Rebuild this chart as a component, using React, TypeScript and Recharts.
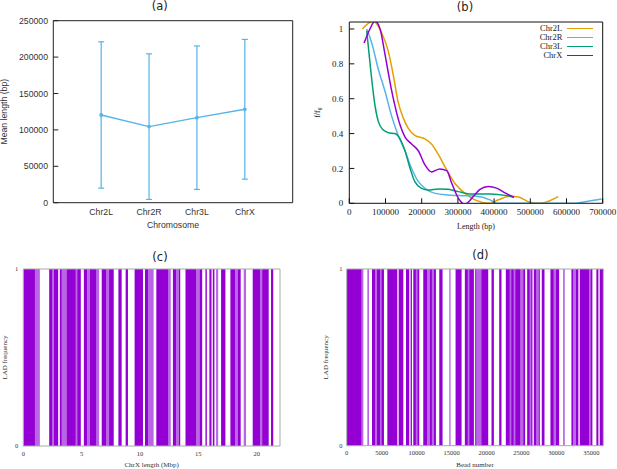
import { LineChart, Line, AreaChart, Area, XAxis, YAxis, ErrorBar, Legend, Label } from 'recharts'

// fonts
const SANS = '"Liberation Sans", Arial, sans-serif'
const SERIF = '"Liberation Serif", "Times New Roman", serif'
const TITLE_FONT = '"DejaVu Sans", sans-serif'

// (a) mean LAD length per chromosome
const CHROMOSOMES = ['Chr2L', 'Chr2R', 'Chr3L', 'ChrX']
const MEAN_LENGTH = [120500, 104500, 116800, 128300]
const LENGTH_SD = [100500, 100000, 98500, 96000]
const MEAN_TICKS = [0, 50000, 100000, 150000, 200000, 250000]

// (b) normalised length distributions
const CHR2L_LEN = [36e3, 66e3, 89e3, 108e3, 122e3, 135e3, 149e3, 163e3, 181e3, 209e3, 227e3, 246e3, 264e3, 292e3, 320e3, 347e3, 389e3, 412e3, 444e3, 467e3, 499e3, 527e3, 554e3, 577e3]
const CHR2L_F = [1.0, 1.045, 0.98, 0.87, 0.73, 0.58, 0.49, 0.43, 0.39, 0.37, 0.34, 0.28, 0.21, 0.114, 0.057, 0.02, 0.0, 0.02, 0.04, 0.036, 0.006, 0.0, 0.015, 0.038]
const CHR2R_LEN = [48e3, 62e3, 80e3, 99e3, 117e3, 135e3, 154e3, 172e3, 191e3, 209e3, 237e3, 273e3, 310e3, 347e3, 389e3, 407e3, 470e3, 530e3, 619e3, 660e3, 697e3]
const CHR2R_F = [1.0, 0.92, 0.77, 0.64, 0.5, 0.39, 0.3, 0.2, 0.124, 0.086, 0.057, 0.048, 0.044, 0.042, 0.02, 0.0, 0.0, 0.0, 0.0, 0.012, 0.025]
const CHR3L_LEN = [48e3, 54e3, 62e3, 71e3, 80e3, 94e3, 108e3, 126e3, 140e3, 154e3, 168e3, 181e3, 200e3, 218e3, 246e3, 273e3, 301e3, 338e3, 389e3, 435e3, 455e3]
const CHR3L_F = [0.99, 0.87, 0.71, 0.56, 0.47, 0.42, 0.405, 0.4, 0.37, 0.3, 0.2, 0.124, 0.086, 0.076, 0.082, 0.08, 0.067, 0.053, 0.054, 0.044, 0.035]
const CHRX_LEN = [41e3, 57e3, 71e3, 85e3, 99e3, 112e3, 126e3, 140e3, 154e3, 172e3, 191e3, 209e3, 227e3, 250e3, 269e3, 283e3, 301e3, 320e3, 343e3, 361e3, 384e3, 407e3, 430e3, 455e3]
const CHRX_F = [0.92, 1.0, 1.045, 1.0, 0.85, 0.7, 0.56, 0.45, 0.38, 0.34, 0.3, 0.22, 0.18, 0.197, 0.187, 0.115, 0.03, -0.005, 0.04, 0.08, 0.096, 0.087, 0.06, 0.035]
const LENGTH_TICKS = [0, 100000, 200000, 300000, 400000, 500000, 600000, 700000]
const F_TICKS = [0, 0.2, 0.4, 0.6, 0.8, 1]

// (c) LAD segments along ChrX, Mbp
const CHRX_LAD = [[0, 1.0], [2.22, 2.5], [2.62, 2.99], [3.13, 3.3], [3.7, 4.5], [4.62, 4.93], [5.19, 5.47], [5.7, 6.27], [6.72, 7.12], [7.35, 7.75], [8.15, 8.43], [8.77, 8.97], [9.54, 10.26], [10.43, 10.71], [11.4, 12.4], [12.82, 13.1], [13.33, 13.45], [13.9, 14.8], [15.1, 15.33], [15.61, 15.73], [15.95, 16.13], [16.24, 16.38], [16.95, 17.32], [17.75, 18.17], [18.4, 18.63], [19.66, 20.3], [20.47, 21.03], [21.23, 21.42]]
const CHRX_LAD_PARTIAL = [[1.0, 1.42], [2.5, 2.62], [3.3, 3.7], [4.5, 4.62], [5.47, 5.7], [6.27, 6.5], [7.12, 7.35], [10.71, 11.17], [12.4, 12.64], [13.1, 13.33], [14.8, 15.1], [16.52, 16.7], [18.17, 18.4], [18.89, 19.09], [20.3, 20.47]]
const MBP_TICKS = [0, 5, 10, 15, 20]

// (d) LAD segments along the bead chain
const BEAD_LAD = [[0, 2140], [3620, 4100], [4290, 4760], [4950, 5330], [5810, 7240], [7430, 8100], [8480, 8950], [9140, 9330], [9520, 9900], [10100, 10380], [10950, 11520], [11900, 12190], [12480, 12760], [13240, 13710], [15570, 16430], [16900, 17330], [17520, 18190], [18380, 18570], [19240, 20240], [20710, 21050], [21810, 22140], [22760, 23330], [23520, 23900], [24100, 24860], [25240, 25520], [25810, 26190], [26380, 26570], [26760, 27140], [27430, 27620], [27900, 28290], [29140, 29620], [29900, 30380], [32140, 32380], [32760, 33140], [33330, 34670], [34860, 35140], [35710, 36000], [36190, 36670]]
const BEAD_LAD_PARTIAL = [[2140, 2380], [2950, 3190], [4100, 4290], [4760, 4950], [9900, 10100], [11520, 11900], [12190, 12480], [14670, 14860], [17330, 17520], [18570, 19240], [23330, 23520], [23900, 24100], [24860, 25240], [26190, 26380], [27140, 27430], [29620, 29900], [30950, 31190], [32380, 32760], [34670, 34860]]
const BEAD_TICKS = [0, 5000, 10000, 15000, 20000, 25000, 30000, 35000]

const SKY = '#56b4e9'
const SERIES = [
  { name: 'Chr2L', color: '#e69f00', len: CHR2L_LEN, f: CHR2L_F },
  { name: 'Chr2R', color: SKY, len: CHR2R_LEN, f: CHR2R_F },
  { name: 'Chr3L', color: '#009e73', len: CHR3L_LEN, f: CHR3L_F },
  { name: 'ChrX', color: '#9400d3', len: CHRX_LEN, f: CHRX_F },
]
const LAD_DARK = '#9400d3'
const LAD_LIGHT = '#b866e6'

const meanData = CHROMOSOMES.map((name, i) => ({ x: i + 1, name, mean: MEAN_LENGTH[i], sd: LENGTH_SD[i] }))

// step rows: value holds from one breakpoint to the next
function toSteps(full: number[][], partial: number[][]) {
  const xs = Array.from(new Set([0, ...full.flat(), ...partial.flat()])).sort((a, b) => a - b)
  const inside = (segs: number[][], x: number) => (segs.some(([a, b]) => x >= a && x < b) ? 1 : 0)
  return xs.map((x) => ({ x, dark: inside(full, x), light: inside(partial, x) }))
}

function PanelTitle({ text, cx, top }: { text: string; cx: number; top: number }) {
  return (
    <div style={{ position: 'absolute', left: cx - 20, top, width: 40, textAlign: 'center', fontFamily: TITLE_FONT, fontSize: 11.5, lineHeight: '14px', color: '#222' }}>
      {text}
    </div>
  )
}

function MeanLengthChart() {
  const tick = { fontSize: 8.7, fill: '#333', fontFamily: SANS }
  return (
    <LineChart width={310} height={235} data={meanData} margin={{ top: 19.7, right: 16.3, bottom: 0, left: 0 }}>
      <XAxis dataKey="x" type="number" domain={[0, 5]} ticks={[1, 2, 3, 4]} tickFormatter={(v) => CHROMOSOMES[v - 1] ?? ''}
        height={32.3} tickLine={false} tickSize={0} tickMargin={6.4} stroke="#222" tick={tick} allowDataOverflow>
        <Label value="Chromosome" position="insideBottom" offset={7.5} style={{ ...tick }} />
      </XAxis>
      <XAxis xAxisId="top" orientation="top" type="number" domain={[0, 5]} height={1} tick={false} tickLine={false} stroke="#222" />
      <YAxis type="number" domain={[0, 250000]} ticks={MEAN_TICKS} width={53.3} tickSize={-5} tickMargin={10.3} stroke="#222" tick={tick}>
        <Label value="Mean length (bp)" angle={-90} position="insideLeft" offset={4} style={{ ...tick, textAnchor: 'middle' }} />
      </YAxis>
      <YAxis yAxisId="right" orientation="right" type="number" domain={[0, 250000]} ticks={MEAN_TICKS} width={1} tickSize={-5} tick={false} stroke="#222" />
      <Line dataKey="mean" stroke={SKY} strokeWidth={1.4} dot={{ r: 1.2, fill: SKY, stroke: SKY }} isAnimationActive={false}>
        <ErrorBar dataKey="sd" direction="y" width={3} strokeWidth={1.2} stroke={SKY} />
      </Line>
    </LineChart>
  )
}

function DistributionLegend() {
  return (
    <div>
      {SERIES.map((s) => (
        <div key={s.name} style={{ display: 'flex', alignItems: 'center', justifyContent: 'flex-end', height: 8.9 }}>
          <span style={{ fontFamily: SERIF, fontSize: 8.5, lineHeight: '8.9px', color: '#222' }}>{s.name}</span>
          <span style={{ display: 'inline-block', width: 26, height: 1.5, marginLeft: 4.4, background: s.color }} />
        </div>
      ))}
    </div>
  )
}

function DistributionChart() {
  const tick = { fontSize: 9, fill: '#222', fontFamily: SERIF }
  return (
    <LineChart width={307} height={235} margin={{ top: 21, right: 13.3, bottom: 0, left: 0 }}>
      <XAxis dataKey="x" type="number" domain={[0, 700000]} ticks={LENGTH_TICKS} height={31.7} tickSize={-5} tickMargin={10.8}
        stroke="#111" tick={tick} allowDataOverflow>
        <Label value="Length (bp)" position="insideBottom" offset={6.2} style={{ fontSize: 8, fill: '#222', fontFamily: SERIF }} />
      </XAxis>
      <XAxis xAxisId="top" orientation="top" type="number" domain={[0, 700000]} ticks={LENGTH_TICKS} height={1} tickSize={-5} tick={false} stroke="#111" />
      <YAxis type="number" domain={[0, 1.04]} ticks={F_TICKS} width={39.3} tickSize={-5} tickMargin={11} stroke="#111" tick={tick} allowDataOverflow>
        <Label value="f/f₀" angle={-90} position="insideLeft" offset={6.7} style={{ fontSize: 8, fill: '#222', fontFamily: SERIF, textAnchor: 'middle' }} />
      </YAxis>
      <YAxis yAxisId="right" orientation="right" type="number" domain={[0, 1.04]} ticks={F_TICKS} width={1} tickSize={-5} tick={false} stroke="#111" />
      {SERIES.map((s) => (
        <Line key={s.name} name={s.name} data={s.len.map((x, i) => ({ x, f: s.f[i] }))} dataKey="f" type="monotone"
          stroke={s.color} strokeWidth={1.5} dot={false} isAnimationActive={false} />
      ))}
      <Legend layout="vertical" align="center" verticalAlign="middle" wrapperStyle={{ left: 192.7, top: 24.2, width: 90 }}
        content={() => <DistributionLegend />} />
    </LineChart>
  )
}

interface LadChartProps {
  steps: { x: number; dark: number; light: number }[]
  xMax: number
  xTicks: number[]
  xLabel: string
  width: number
  axisWidth: number
  rightMargin: number
  axisHeight: number
  yLabelOffset: number
  yTickMargin: number
}

function LadChart({ steps, xMax, xTicks, xLabel, width, axisWidth, rightMargin, axisHeight, yLabelOffset, yTickMargin }: LadChartProps) {
  const tick = { fontSize: 6.5, fill: '#333', fontFamily: SERIF }
  const label = { fontSize: 7, fill: '#333', fontFamily: SERIF }
  const frame = '#a8a8a8'
  return (
    <AreaChart width={width} height={229} data={steps} margin={{ top: 28, right: rightMargin, bottom: 0, left: 0 }}>
      <XAxis dataKey="x" type="number" domain={[0, xMax]} ticks={xTicks} height={axisHeight} tickLine={false} tickSize={0} tickMargin={5}
        stroke={frame} tick={tick} allowDataOverflow>
        <Label value={xLabel} position="insideBottom" offset={2.2} style={label} />
      </XAxis>
      <XAxis xAxisId="top" orientation="top" type="number" domain={[0, xMax]} height={1} tick={false} tickLine={false} stroke={frame} />
      <YAxis type="number" domain={[0, 1]} ticks={[0, 1]} width={axisWidth} tickLine={false} tickSize={0} tickMargin={yTickMargin} stroke={frame} tick={tick}>
        <Label value="LAD frequency" angle={-90} position="insideLeft" offset={yLabelOffset} style={{ ...label, textAnchor: 'middle' }} />
      </YAxis>
      <YAxis yAxisId="right" orientation="right" type="number" domain={[0, 1]} width={1} tick={false} tickLine={false} stroke={frame} />
      <Area dataKey="light" type="stepAfter" fill={LAD_LIGHT} fillOpacity={1} stroke="none" isAnimationActive={false} />
      <Area dataKey="dark" type="stepAfter" fill={LAD_DARK} fillOpacity={1} stroke="none" isAnimationActive={false} />
    </AreaChart>
  )
}

export default function App() {
  const chrxSteps = toSteps(CHRX_LAD, CHRX_LAD_PARTIAL)
  const beadSteps = toSteps(BEAD_LAD, BEAD_LAD_PARTIAL)
  return (
    <div style={{ position: 'absolute', left: 0, top: 0, width: 617, height: 469, background: '#fff', overflow: 'hidden' }}>
      <PanelTitle text="(a)" cx={159.7} top={-1.3} />
      <PanelTitle text="(b)" cx={465} top={0.3} />
      <PanelTitle text="(c)" cx={160} top={249.7} />
      <PanelTitle text="(d)" cx={480.3} top={248.3} />
      <div style={{ position: 'absolute', left: 0, top: 0 }}>
        <MeanLengthChart />
      </div>
      <div style={{ position: 'absolute', left: 310, top: 0 }}>
        <DistributionChart />
      </div>
      <div style={{ position: 'absolute', left: 0, top: 240 }}>
        <LadChart steps={chrxSteps} xMax={22} xTicks={MBP_TICKS} xLabel="ChrX length (Mbp)" width={310} axisWidth={23.3}
          rightMargin={29} axisHeight={23} yLabelOffset={4.5} yTickMargin={5} />
      </div>
      <div style={{ position: 'absolute', left: 310, top: 240 }}>
        <LadChart steps={beadSteps} xMax={36700} xTicks={BEAD_TICKS} xLabel="Bead number" width={307} axisWidth={36.7}
          rightMargin={12.7} axisHeight={23.3} yLabelOffset={16} yTickMargin={4.2} />
      </div>
    </div>
  )
}
